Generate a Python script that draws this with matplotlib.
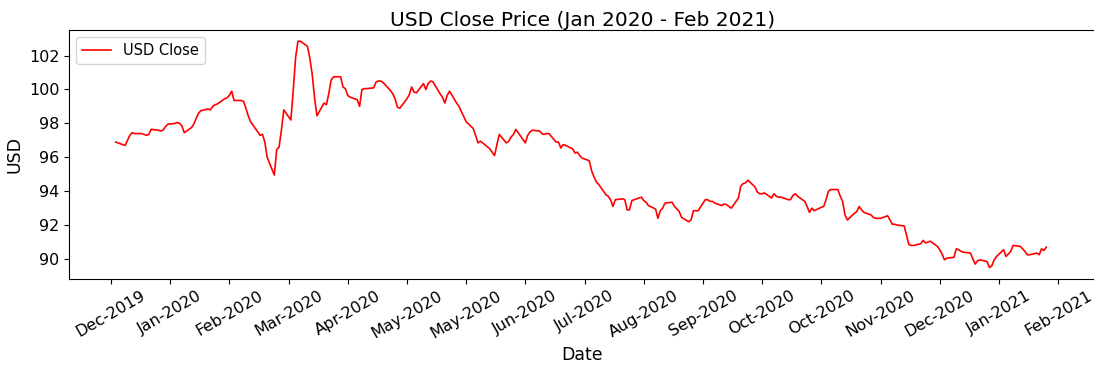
# USD close price, Jan 2020 - Feb 2021 (daily, business days)
import numpy as np
import pandas as pd
import matplotlib
matplotlib.use('Agg')
import matplotlib.pyplot as plt
import matplotlib.dates as mdates

# ---------------------------------------------------------------------------- #
#                                     DATA                                     #
# ---------------------------------------------------------------------------- #
start_date = '2020-01-02'
end_date = '2021-01-29'

jan20 = [96.9, 96.85, 96.7, 97.0, 97.3, 97.45, 97.4, 97.4, 97.35, 97.3, 97.35,
         97.65, 97.6, 97.55, 97.6, 97.8, 97.95, 98.0, 98.05, 98.0, 97.85, 97.45]
feb20 = [97.75, 97.95, 98.3, 98.6, 98.75, 98.85, 98.8, 99.0, 99.1, 99.15,
         99.45, 99.5, 99.65, 99.9, 99.35, 99.35, 99.3, 98.9, 98.45, 98.1]
mar20 = [97.5, 97.3, 97.35, 96.9, 96.0, 94.95, 96.45, 96.6, 97.6, 98.8, 98.2,
         99.95, 101.9, 102.85, 102.85, 102.55, 101.85, 100.9, 99.5, 98.45, 99.2, 99.1]
apr20 = [99.75, 100.55, 100.75, 100.75, 100.15, 100.05, 99.65, 99.55, 99.4, 99.0,
         100.0, 100.05, 100.05, 100.1, 100.45, 100.5, 100.5, 100.4, 99.95, 99.75,
         99.45, 98.95]
may20 = [98.9, 99.45, 99.7, 100.15, 99.85, 99.8, 100.35, 100.0, 100.35, 100.5,
         100.45, 99.75, 99.55, 99.2, 99.65, 99.9, 99.2, 99.0, 98.7, 98.4, 98.1]
jun20 = [97.7, 97.3, 96.85, 96.95, 96.85, 96.5, 96.3, 96.1, 96.75, 97.35, 96.85,
         96.95, 97.2, 97.35, 97.65, 97.05, 96.85, 97.3, 97.5, 97.6, 97.55, 97.4]
jul20 = [97.35, 97.4, 97.4, 96.9, 96.9, 96.55, 96.75, 96.7, 96.5, 96.25, 96.3,
         96.1, 95.95, 95.8, 95.2, 94.85, 94.55, 94.4, 93.8, 93.7, 93.5, 93.1, 93.5]
aug20 = [93.55, 93.5, 92.9, 92.9, 93.45, 93.6, 93.65, 93.45, 93.35, 93.15, 92.95,
         92.4, 92.85, 93.0, 93.3, 93.35, 93.1, 92.95, 92.8, 92.45, 92.2]
sep20 = [92.3, 92.85, 92.85, 92.85, 93.5, 93.5, 93.4, 93.4, 93.3, 93.15, 93.25,
         93.2, 93.1, 93.0, 93.6, 94.3, 94.45, 94.5, 94.65, 94.25, 93.95, 93.85]
oct20 = [93.85, 93.9, 93.6, 93.85, 93.7, 93.65, 93.65, 93.5, 93.5, 93.75, 93.85,
         93.7, 93.4, 93.1, 92.75, 93.0, 92.85, 93.05, 93.1, 93.5, 94.0, 94.1]
nov20 = [94.1, 93.7, 93.4, 92.6, 92.3, 92.7, 92.8, 93.1, 92.9, 92.75, 92.6,
         92.45, 92.4, 92.4, 92.4, 92.55, 92.3, 92.05, 92.05, 92.0, 91.95]
dec20 = [91.4, 90.85, 90.8, 90.8, 90.9, 91.1, 90.95, 91.0, 91.05, 90.75, 90.55,
         90.3, 89.95, 90.05, 90.1, 90.6, 90.55, 90.45, 90.4, 90.35, 90.0, 89.7, 89.9]
jan21 = [89.95, 89.85, 89.5, 89.6, 89.95, 90.15, 90.55, 90.15, 90.3, 90.45, 90.8,
         90.75, 90.6, 90.45, 90.25, 90.25, 90.35, 90.25, 90.6, 90.5, 90.7]

# x ticks every 25 days, y ticks every 2 USD
tick_start = '2019-12-31'
n_ticks = 17
tick_step = '25D'
yticks = [90, 92, 94, 96, 98, 100, 102]

dates = pd.bdate_range(start_date, end_date)
close = np.concatenate([jan20, feb20, mar20, apr20, may20, jun20, jul20,
                        aug20, sep20, oct20, nov20, dec20, jan21])
df = pd.DataFrame({'Close': close}, index=dates)

# ---------------------------------------------------------------------------- #
#                                     PLOT                                     #
# ---------------------------------------------------------------------------- #
W, H = 1094, 365
fig = plt.figure(figsize=(W/100, H/100), dpi=100)
ax = fig.add_axes([69/W, (H-278.5)/H, 1027/W, 248.5/H])

ax.plot(df.index, df['Close'], color='red', lw=1.2, label='USD Close')

ax.set_title('USD Close Price (Jan 2020 - Feb 2021)', fontsize=14.5, pad=2)
ax.set_xlabel('Date', fontsize=12.5)
ax.set_ylabel('USD', fontsize=12.5)

tick_dates = pd.date_range(tick_start, periods=n_ticks, freq=tick_step)
ax.set_xticks(tick_dates)
ax.xaxis.set_major_formatter(mdates.DateFormatter('%b-%Y'))
plt.setp(ax.get_xticklabels(), rotation=30)
ax.set_yticks(yticks)
ax.tick_params(labelsize=11.5)

t0 = pd.Timestamp(tick_start)
ax.set_xlim(t0 - pd.Timedelta(days=17.7), t0 + pd.Timedelta(days=416))
ax.set_ylim(88.85, 103.51)

ax.legend(loc='upper left', fontsize=10.5)

fig.savefig('out.png', dpi=100)
plt.close('all')
